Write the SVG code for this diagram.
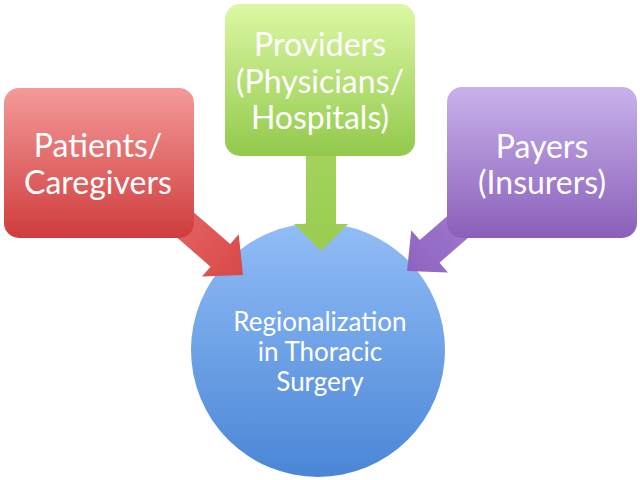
<svg xmlns="http://www.w3.org/2000/svg" width="640" height="480" viewBox="0 0 640 480">
<defs>
<linearGradient id="gRed" x1="0" y1="0" x2="0" y2="1"><stop offset="0" stop-color="#f49a9a"/><stop offset="1" stop-color="#cf3c3c"/></linearGradient>
<linearGradient id="gGreen" x1="0" y1="0" x2="0" y2="1"><stop offset="0" stop-color="#dcf8a4"/><stop offset="1" stop-color="#92c94c"/></linearGradient>
<linearGradient id="gPurple" x1="0" y1="0" x2="0" y2="1"><stop offset="0" stop-color="#c9b2ec"/><stop offset="1" stop-color="#8a5fb9"/></linearGradient>
<linearGradient id="gBlue" x1="0" y1="0" x2="0" y2="1"><stop offset="0" stop-color="#92bdf7"/><stop offset="1" stop-color="#4a86d6"/></linearGradient>
<linearGradient id="gRedA" x1="0" y1="0" x2="1" y2="0"><stop offset="0" stop-color="#e66a6a"/><stop offset="1" stop-color="#d94848"/></linearGradient>
<linearGradient id="gPurpleA" x1="0" y1="0" x2="1" y2="0"><stop offset="0" stop-color="#a47fd2"/><stop offset="1" stop-color="#8e63c0"/></linearGradient>
<linearGradient id="gGreenA" x1="0" y1="0" x2="0" y2="1"><stop offset="0" stop-color="#a3d35c"/><stop offset="1" stop-color="#9acc50"/></linearGradient>
</defs>
<style>
text{font-family:Lato,"Open Sans","Liberation Sans",sans-serif;fill:#ffffff;text-anchor:middle}
.big{font-size:32px}
.small{font-size:26px}
</style>
<rect width="640" height="480" fill="#ffffff"/>
<g id="center">
<circle cx="318" cy="350" r="127" fill="url(#gBlue)"/>
<text class="small" x="320" y="331">Regionalization</text>
<text class="small" x="320" y="361">in Thoracic</text>
<text class="small" x="320" y="391">Surgery</text>
</g>
<g id="connectors">
<polygon transform="translate(243,275) rotate(41)" points="0,0 -30,-28 -30,-15 -110,-15 -110,15 -30,15 -30,28" fill="url(#gRedA)"/>
<polygon points="306,150 336,150 336,224 348,224 321,251 294,224 306,224" fill="url(#gGreenA)"/>
<polygon transform="translate(407,271) rotate(139)" points="0,0 -30,-28 -30,-15 -110,-15 -110,15 -30,15 -30,28" fill="url(#gPurpleA)"/>
</g>
<g id="patients">
<rect x="4" y="88" width="190" height="150" rx="15" fill="url(#gRed)"/>
<text class="big" x="98" y="157">Patients/</text>
<text class="big" x="98" y="194">Caregivers</text>
</g>
<g id="providers">
<rect x="225" y="4" width="190" height="152" rx="15" fill="url(#gGreen)"/>
<text class="big" x="320" y="56">Providers</text>
<text class="big" x="320" y="93">(Physicians/</text>
<text class="big" x="320" y="129">Hospitals)</text>
</g>
<g id="payers">
<rect x="447" y="87" width="190" height="151" rx="15" fill="url(#gPurple)"/>
<text class="big" x="542" y="158">Payers</text>
<text class="big" x="542" y="194">(Insurers)</text>
</g>
</svg>
